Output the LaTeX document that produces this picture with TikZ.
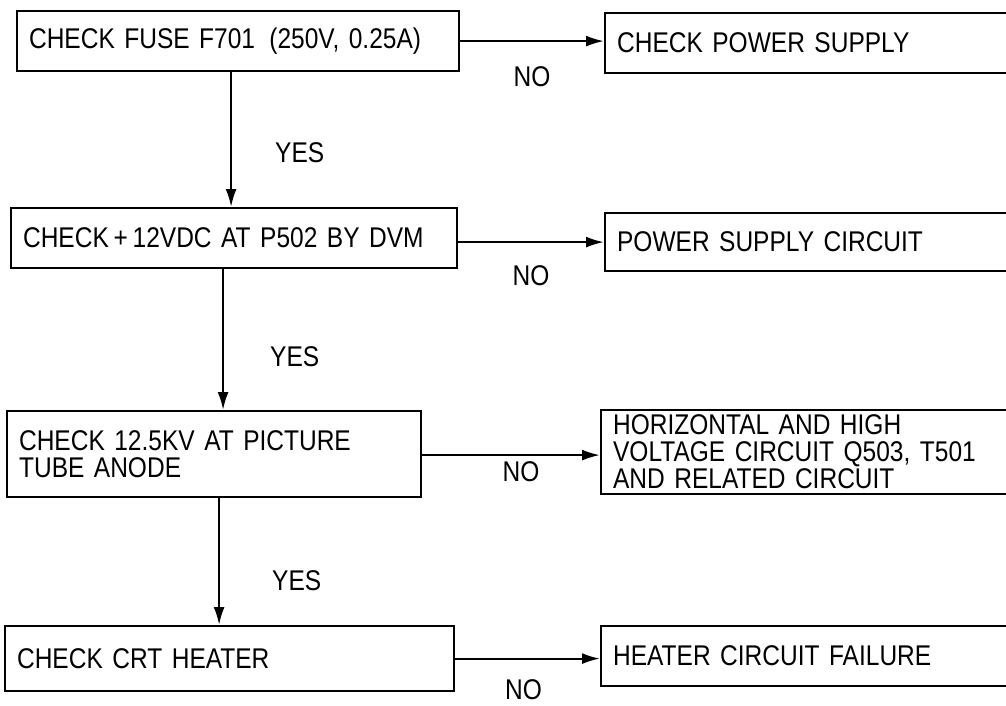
\documentclass[tikz,border=0pt]{standalone}
\usepackage{fontspec}
\setmainfont{Liberation Sans}[FakeStretch=0.86]
\usetikzlibrary{positioning, arrows.meta}

\begin{document}
\begin{tikzpicture}[
  x=1pt, y=-1pt,
  box/.style={draw, line width=2.2pt, anchor=north west, font=\fontsize{28.5}{27}\selectfont, align=left, inner xsep=12pt, inner ysep=0pt},
  arrow/.style={-{Latex[length=18pt, width=11pt]}, line width=2.2pt},
  lbl/.style={font=\fontsize{28.5}{27}\selectfont, inner sep=0pt}]
  \useasboundingbox (0,0) rectangle (1006,706);

  % left column: checks
  \node[box, text width=418pt, minimum height=60pt] (fuse) at (16,10) {CHECK FUSE F701 \,(250V, 0.25A)};
  \node[box, text width=422pt, minimum height=60pt] (dvm) at (10,207) {CHECK\,+\,12VDC AT P502 BY DVM};
  \node[box, text width=390pt, minimum height=86pt] (anode) at (6,410) {CHECK 12.5KV AT PICTURE\\TUBE ANODE};
  \node[box, text width=425pt, minimum height=65pt] (heater) at (4,625) {CHECK CRT HEATER};

  % right column: faults
  \node[box, text width=400pt, minimum height=60pt] (psu) at (604,12) {CHECK POWER SUPPLY};
  \node[box, text width=400pt, minimum height=58pt] (psc) at (604,212) {POWER SUPPLY CIRCUIT};
  \node[box, text width=404pt, minimum height=84pt] (hvc) at (600,409) {HORIZONTAL AND HIGH\\VOLTAGE CIRCUIT Q503, T501\\AND RELATED CIRCUIT};
  \node[box, text width=404pt, minimum height=60pt] (htr) at (600,625) {HEATER CIRCUIT FAILURE};

  \draw[arrow] (fuse.east) -- node[lbl, below=24pt]{NO} (fuse.east -| psu.west);
  \draw[arrow] ([yshift=-4pt]dvm.east) -- node[lbl, below=22pt]{NO} ([yshift=-4pt]dvm.east -| psc.west);
  \draw[arrow] ([yshift=-1pt]anode.east) -- node[lbl, below=5pt, xshift=10pt]{NO} ([yshift=-1pt]anode.east -| hvc.west);
  \draw[arrow] (heater.east) -- node[lbl, below=20pt, xshift=-4pt]{NO} (heater.east -| htr.west);

  \draw[arrow] ([xshift=-7pt]fuse.south) -- node[lbl, right=43pt, pos=0.6]{YES} ([xshift=-7pt]fuse.south |- dvm.north);
  \draw[arrow] ([xshift=-11pt]dvm.south) -- node[lbl, right=46pt, pos=0.62]{YES} ([xshift=-11pt]dvm.south |- anode.north);
  \draw[arrow] ([xshift=5pt]anode.south) -- node[lbl, right=52pt, pos=0.65]{YES} ([xshift=5pt]anode.south |- heater.north);
\end{tikzpicture}
\end{document}
